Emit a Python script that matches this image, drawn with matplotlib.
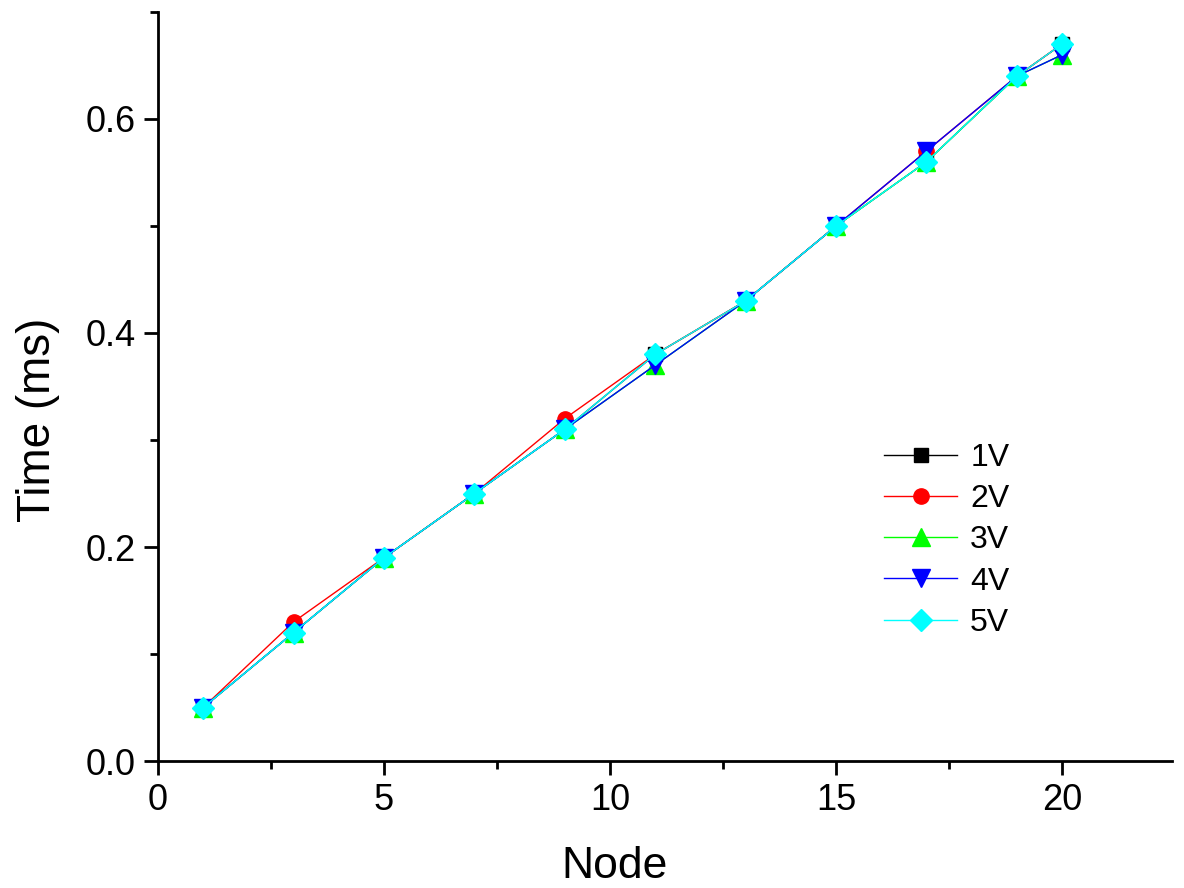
import matplotlib
matplotlib.use("Agg")
import matplotlib.pyplot as plt
from matplotlib.ticker import MultipleLocator, FormatStrFormatter

plt.rcParams['font.family'] = ['Liberation Sans', 'DejaVu Sans']

nodes = [1, 3, 5, 7, 9, 11, 13, 15, 17, 19, 20]
t_1v = [0.05, 0.12, 0.19, 0.25, 0.31, 0.38, 0.43, 0.50, 0.56, 0.64, 0.67]
t_2v = [0.05, 0.13, 0.19, 0.25, 0.32, 0.38, 0.43, 0.50, 0.57, 0.64, 0.67]
t_3v = [0.05, 0.12, 0.19, 0.25, 0.31, 0.37, 0.43, 0.50, 0.56, 0.64, 0.66]
t_4v = [0.05, 0.12, 0.19, 0.25, 0.31, 0.37, 0.43, 0.50, 0.57, 0.64, 0.66]
t_5v = [0.05, 0.12, 0.19, 0.25, 0.31, 0.38, 0.43, 0.50, 0.56, 0.64, 0.67]
labels = ['1V', '2V', '3V', '4V', '5V']

fig = plt.figure(figsize=(11.84, 8.88), dpi=100)
ax = fig.add_axes([0.1334, 0.143, 0.8564, 0.8435])

# colour, marker, marker size
styles = [('black', 's', 10), ('red', 'o', 11), ('#00ff00', '^', 13),
          ('blue', 'v', 13), ('cyan', 'D', 11)]
series = [t_1v, t_2v, t_3v, t_4v, t_5v]
for vals, lab, (c, m, ms) in zip(series, labels, styles):
    ax.plot(nodes, vals, color=c, marker=m, markersize=ms, lw=1, label=lab)

ax.set_xlim(0, 22.43)
ax.set_ylim(0, 0.70)
ax.xaxis.set_major_locator(MultipleLocator(5))
ax.xaxis.set_minor_locator(MultipleLocator(2.5))
ax.yaxis.set_major_locator(MultipleLocator(0.2))
ax.yaxis.set_minor_locator(MultipleLocator(0.1))
ax.yaxis.set_major_formatter(FormatStrFormatter('%.1f'))

ax.spines['top'].set_visible(False)
ax.spines['right'].set_visible(False)
ax.spines['left'].set_linewidth(2)
ax.spines['bottom'].set_linewidth(2)
ax.tick_params(which='major', direction='out', length=10, width=2, labelsize=26, pad=6)
ax.tick_params(which='minor', direction='out', length=6, width=2)

ax.set_xlabel('Node', fontsize=32)
ax.set_ylabel('Time (ms)', fontsize=33)
ax.xaxis.set_label_coords(0.45, -0.113)
ax.yaxis.set_label_coords(-0.097, 0.455)

ax.legend(loc='upper left', bbox_to_anchor=(0.7466, 0.501), bbox_transform=fig.transFigure,
          frameon=False, fontsize=23, handlelength=2.3, labelspacing=0.35,
          handletextpad=0.4, borderpad=0, borderaxespad=0)

fig.savefig('out.png', dpi=100)
